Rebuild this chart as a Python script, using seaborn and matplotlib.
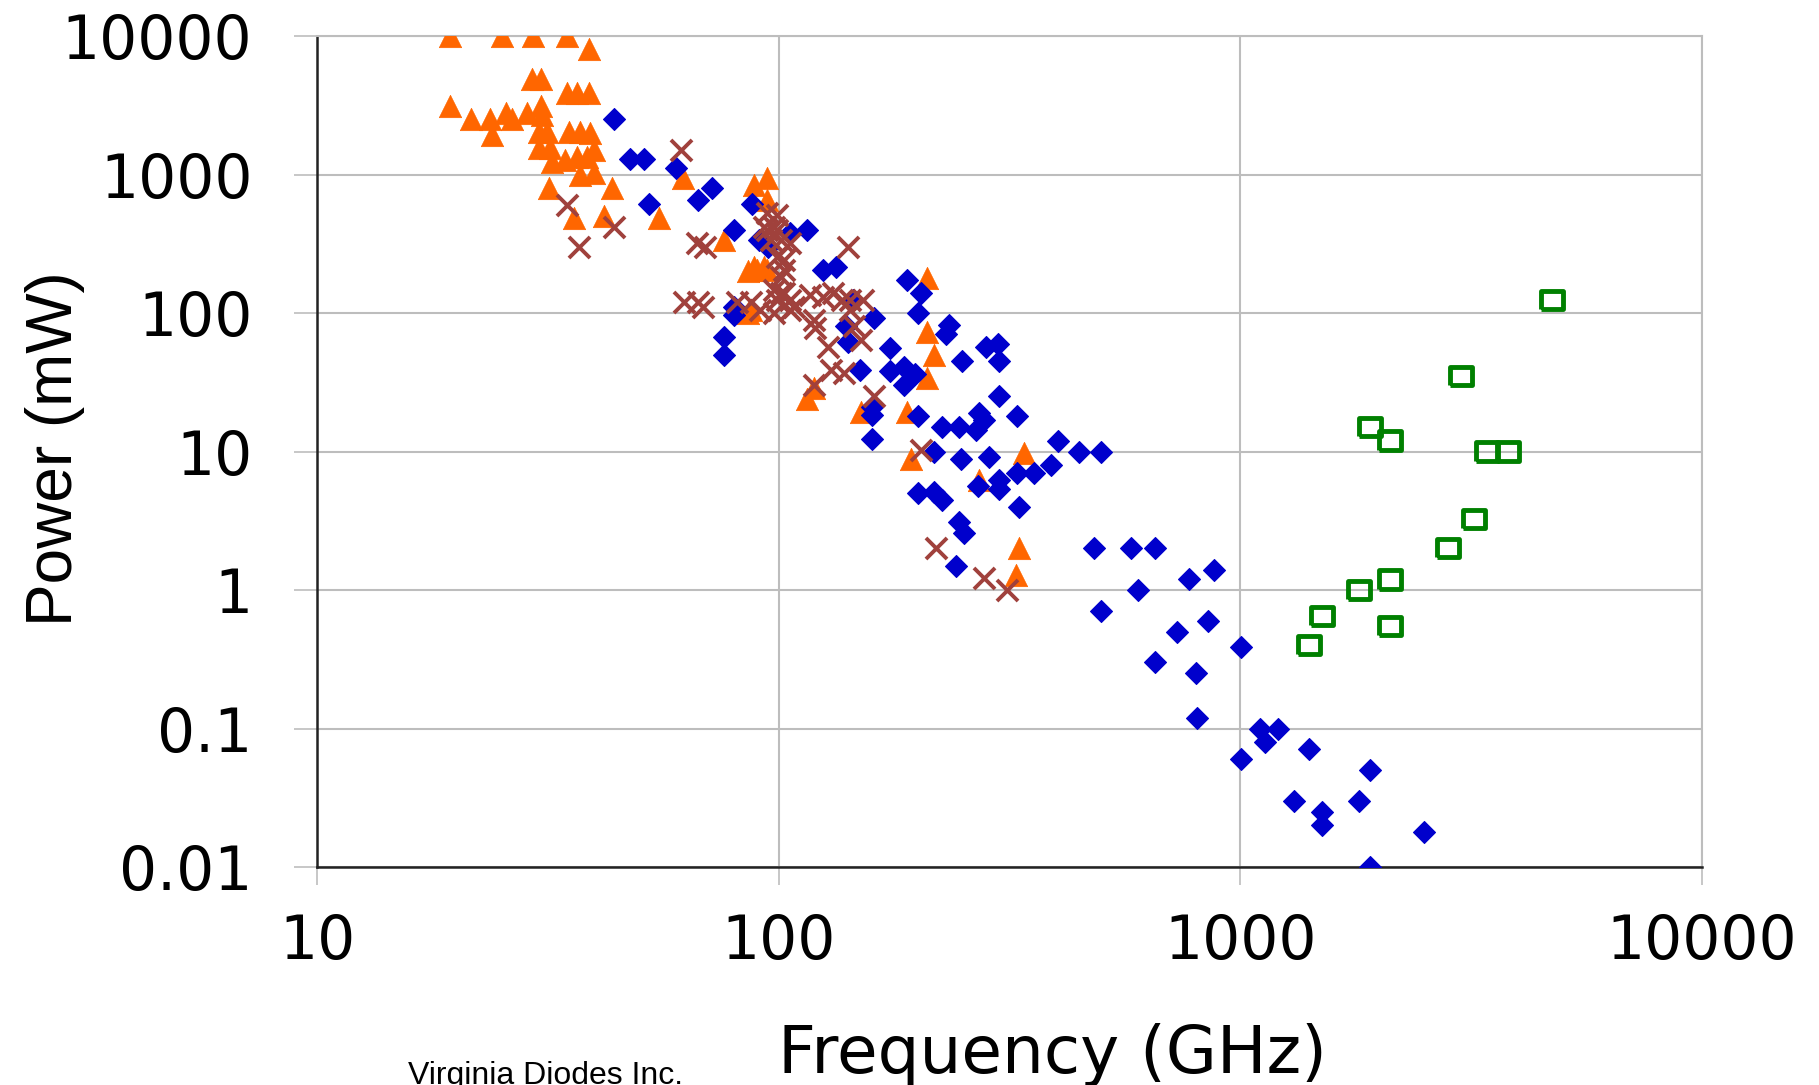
import matplotlib
matplotlib.use("Agg")
import pandas as pd
import seaborn as sns
from matplotlib import pyplot as plt

# frequency (GHz) / power (mW), one pair of lists per source
blue_freq = [44, 47.7, 51, 60, 52.4, 67, 71.7, 80, 87.7, 90.6, 94.6, 106,
             115, 125, 133, 190, 203, 200, 80, 80, 76, 76, 145, 161, 140, 141,
             174, 150, 174, 187, 197, 187, 234, 230, 250, 281, 298, 300, 300,
             329, 200, 159, 159, 159, 226, 246, 272, 279, 268, 217, 248, 286,
             403, 448, 499, 389, 329, 358, 300, 300, 270, 332, 200, 217, 226,
             246, 252, 242,
             482, 580, 652, 877, 773, 601, 499, 851, 730, 1002, 652, 803, 806,
             1101, 1207, 1130, 1407, 1002, 1906, 1306, 1807, 1504, 1504, 2500,
             1906]
blue_power = [2500, 1290, 1290, 1110, 613, 655, 795, 400, 610, 337, 300, 378,
              400, 204, 216, 173, 139, 100, 111, 97, 67, 50, 124, 92, 80, 62,
              56, 39, 38, 41, 36, 30, 82, 71, 45, 57, 60, 45, 25,
              18, 18, 21, 18.4, 12.4, 15, 15, 19, 17, 14.3, 10, 8.9, 9.2,
              12, 10, 10, 8, 7, 7, 6.2, 5.4, 5.6, 4, 5, 5.1, 4.5,
              3.1, 2.6, 1.5,
              2, 2, 2, 1.4, 1.2, 1.0, 0.7, 0.6, 0.5, 0.39, 0.3, 0.25, 0.12,
              0.1, 0.1, 0.08, 0.071, 0.06, 0.05, 0.03, 0.03, 0.025, 0.02, 0.018,
              0.01]

orange_freq = [19.4, 25.1, 29.4, 34.8, 38.8, 29.2, 30.5, 34.8, 36.6, 38.8,
               19.4, 21.5, 23.7, 25.6, 26.5, 28.5, 30.5, 30.7, 23.9, 30.2, 31.5,
               35.1, 37.2, 39.1, 30.2, 32.0, 39.8, 32.2, 34.5, 36.6, 38.5, 37.2,
               39.8, 31.8, 43.5, 36, 41.8, 55, 62.1, 88.3, 94.4, 94.4, 76, 88.3,
               92.8, 89.8, 85.6, 94.4, 87, 85.6, 210, 210, 217, 210, 115, 119,
               150.5, 190, 193, 340, 272, 332, 327]
orange_power = [10000, 10000, 10000, 10000, 8000, 4900, 4900, 3900, 3900, 3900,
                3100, 2500, 2500, 2770, 2500, 2770, 3100, 2700, 1930, 2040, 2040,
                2040, 2040, 1990, 1550, 1550, 1500, 1240, 1270, 1345, 1345, 1000,
                1020, 795, 795, 483, 500, 483, 940, 840, 940, 655, 337, 216,
                216, 204, 200, 204, 105, 100, 178, 73, 50, 34, 24, 28.6,
                19.4, 19.4, 8.9, 9.7, 6.2, 2.0, 1.28]

brown_freq = [61.3, 34.8, 44, 36.9, 66.5, 69.3, 62.2, 67, 68.7, 81.4, 87, 91.3,
              97.5, 108, 94.4, 97.5, 101, 94.4, 102.7, 101, 101, 99.2, 92.8,
              99.2, 106, 96.1, 99.2, 102.7, 97.5, 102.7, 106, 99.2, 106, 141,
              117, 125, 131, 137, 143, 152, 119, 120, 128, 143, 145.5, 150.5,
              130, 138.5, 119, 160.7, 203, 219, 279, 313]
brown_power = [1500, 600, 420, 300, 318, 301, 121, 121, 111, 121, 121, 105,
               100, 111, 525, 420, 337, 400, 241, 183, 139, 510, 420,
               400, 318, 337, 255, 204, 146, 139, 124, 124, 105, 301,
               135, 131, 139, 124, 124, 124, 89, 78, 57, 105, 80, 64,
               39, 37, 30, 25, 10.3, 2.0, 1.22, 1.0]

green_freq = [4730, 3006, 1906, 2108, 3420, 3796, 3214, 2812, 2108, 1807, 1504,
              2108, 1407]
green_power = [124, 35, 15, 12, 10, 10, 3.24, 2.02, 1.19, 1.0, 0.65, 0.55, 0.40]

y_ticks = [0.01, 0.1, 1, 10, 100, 1000, 10000]
y_tick_labels = ["0.01", "0.1", "1", "10", "100", "1000", "10000"]
x_ticks = [10, 100, 1000, 10000]
x_tick_labels = ["10", "100", "1000", "10000"]

BLUE = "#0000CC"
ORANGE = "#FF6600"
BROWN = "#A0413C"
GREEN = "#008000"
GRID = "#BDBDBD"

sns.set_theme(style="white")
plt.rcParams["font.family"] = ["DejaVu Sans"]
plt.rcParams["text.color"] = "black"
plt.rcParams["axes.labelcolor"] = "black"
plt.rcParams["xtick.labelcolor"] = "black"
plt.rcParams["ytick.labelcolor"] = "black"

fig = plt.figure(figsize=(18.19, 10.85), dpi=100)
ax = fig.add_axes([0.1743, 0.2009, 0.7614, 0.7659])

orange = pd.DataFrame({"freq": orange_freq, "power": orange_power})
blue = pd.DataFrame({"freq": blue_freq, "power": blue_power})
brown = pd.DataFrame({"freq": brown_freq, "power": brown_power})
green = pd.DataFrame({"freq": green_freq, "power": green_power})

# the open markers in the original are a bit wider than tall
wide_square = [(-1.2, -1), (1.2, -1), (1.2, 1), (-1.2, 1), (-1.2, -1)]

sns.scatterplot(data=orange, x="freq", y="power", marker="^", s=260,
                color=ORANGE, edgecolor=ORANGE, linewidth=0.5,
                legend=False, ax=ax, zorder=3)
sns.scatterplot(data=blue, x="freq", y="power", marker="D", s=125,
                color=BLUE, edgecolor=BLUE, linewidth=0.8,
                legend=False, ax=ax, zorder=4)
sns.scatterplot(data=brown, x="freq", y="power", marker="x", s=230,
                color=BROWN, linewidth=2.8, legend=False, ax=ax, zorder=5)
sns.scatterplot(data=green, x="freq", y="power", marker=wide_square, s=250,
                color=GREEN, facecolor="none", edgecolor=GREEN, linewidth=3.5,
                legend=False, ax=ax, zorder=6)

ax.set_xscale("log")
ax.set_yscale("log")
ax.set_xlim(10, 10000)
ax.set_ylim(0.01, 10000)
ax.set_xticks(x_ticks, x_tick_labels)
ax.set_yticks(y_ticks, y_tick_labels)
ax.minorticks_off()

ax.grid(True, which="major", color=GRID, linewidth=1.5)
ax.set_axisbelow(True)
for side in ["left", "bottom"]:
    ax.spines[side].set_color("#222222")
    ax.spines[side].set_linewidth(1.8)
for side in ["top", "right"]:
    ax.spines[side].set_color(GRID)
    ax.spines[side].set_linewidth(1.5)

ax.tick_params(axis="y", length=16.5, width=1.2, color=GRID, pad=30,
               labelsize=43, left=True)
ax.tick_params(axis="x", length=13, width=1.2, color=GRID, pad=20,
               labelsize=43, bottom=True)

ax.set_xlabel("Frequency (GHz)", fontsize=47.5, va="baseline")
ax.xaxis.set_label_coords(0.531, -0.248)
ax.set_ylabel("Power (mW)", fontsize=46, va="baseline",
              family=["Liberation Sans", "DejaVu Sans"])
ax.yaxis.set_label_coords(-0.1769, 0.503)

fig.text(0.2243, 0.001, "Virginia Diodes Inc.", fontsize=23, va="baseline",
         family=["Liberation Sans", "DejaVu Sans"])

fig.savefig("out.png", dpi=100, facecolor="white")
